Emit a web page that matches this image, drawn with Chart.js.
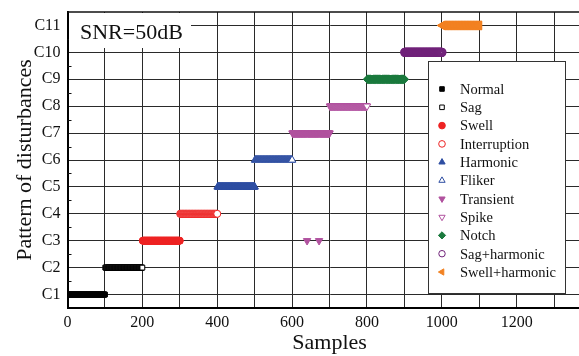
<!DOCTYPE html>
<html>
<head>
<meta charset="utf-8">
<script src="https://cdn.jsdelivr.net/npm/chart.js@4.4.1/dist/chart.umd.min.js"></script>
<style>
  html, body { margin: 0; padding: 0; background: #fff; overflow: hidden; }
  #wrap { width: 600px; height: 356px; }
</style>
</head>
<body>
<div id="wrap"><canvas id="chart" width="600" height="356"></canvas></div>
<script>
// disturbance classes, in the order they are fed to the classifier
const classNames = ["Normal", "Sag", "Swell", "Interruption", "Harmonic", "Fliker",
  "Transient", "Spike", "Notch", "Sag+harmonic", "Swell+harmonic"];
const sampleStart = [1, 101, 201, 301, 401, 501, 601, 701, 801, 901, 1001];
const sampleEnd = [100, 200, 300, 400, 500, 600, 700, 800, 900, 1000, 1100];
const predictedClass = [1, 2, 3, 4, 5, 6, 7, 8, 9, 10, 11];

// transient samples that were put in the wrong class
const missSamples = [640, 672];
const missClass = [3, 3];

const yTickLabels = ["C1", "C2", "C3", "C4", "C5", "C6", "C7", "C8", "C9", "C10", "C11"];
const xTickLabels = [0, 200, 400, 600, 800, 1000, 1200];

// marker look for each class
const classColors = ["#000000", "#000000", "#ee2323", "#ee2323", "#2e4ea2", "#2e4ea2",
  "#b1529f", "#b1529f", "#1b7a3e", "#71237a", "#f28222"];
const classMarkers = ["rect", "rect", "circle", "circle", "triangle", "triangle",
  "triangle", "triangle", "rectRot", "circle", "triangle"];
const classRotation = [0, 0, 0, 0, 0, 0, 180, 180, 0, 0, -90];
const classHollow = [false, true, false, true, false, true, false, true, false, true, false];
const classRadius = [3.4, 3.4, 3.5, 3.5, 4.3, 4.3, 4.3, 4.3, 4.1, 2.5, 5.0];
const classBorder = [1, 1, 1, 1, 1, 1, 1, 1, 1, 4.4, 1];

const serif = "'Liberation Serif', 'Times New Roman', serif";

const datasets = classNames.map((name, i) => {
  const points = [];
  for (let s = sampleStart[i]; s <= sampleEnd[i]; s++) {
    const m = i === 6 ? missSamples.indexOf(s) : -1;
    points.push({ x: s, y: m >= 0 ? missClass[m] : predictedClass[i] });
  }
  return {
    label: name,
    data: points,
    showLine: false,
    pointStyle: classMarkers[i],
    rotation: classRotation[i],
    pointRadius: classRadius[i],
    pointBorderWidth: classBorder[i],
    borderColor: classColors[i],
    backgroundColor: classHollow[i] ? "#ffffff" : classColors[i],
    clip: 0,
  };
});

function drawMarker(ctx, i, x, y) {
  const r = i === 9 ? 3.4 : Math.min(classRadius[i], 3.8);
  const opts = {
    pointStyle: classMarkers[i],
    rotation: classRotation[i],
    radius: r * 0.95,
    borderWidth: 1,
  };
  ctx.save();
  ctx.fillStyle = classHollow[i] ? "#ffffff" : classColors[i];
  ctx.strokeStyle = classColors[i];
  ctx.lineWidth = 1;
  Chart.helpers.drawPoint(ctx, opts, x, y);
  ctx.restore();
}

// top frame line, inward minor ticks, SNR note and the legend box
const extras = {
  id: "extras",
  beforeDatasetsDraw(chart) {
    const { ctx, chartArea } = chart;
    const ys = chart.scales.y;
    ctx.save();
    ctx.strokeStyle = "#111";
    ctx.lineWidth = 1.5;
    ctx.beginPath();
    ctx.moveTo(chartArea.left, chartArea.top);
    ctx.lineTo(chartArea.right, chartArea.top);
    ctx.stroke();
    ctx.lineWidth = 1;
    for (let v = 1.5; v < 11.5; v += 1) {
      const py = Math.round(ys.getPixelForValue(v)) + 0.5;
      ctx.beginPath();
      ctx.moveTo(chartArea.left, py);
      ctx.lineTo(chartArea.left + 4, py);
      ctx.stroke();
    }
    ctx.restore();
  },
  afterDraw(chart) {
    const { ctx, chartArea } = chart;
    ctx.save();
    // SNR note
    ctx.fillStyle = "#fff";
    ctx.fillRect(chartArea.left + 1.5, chartArea.top + 1, 122, 35);
    ctx.fillStyle = "#111";
    ctx.font = "22px " + serif;
    ctx.textBaseline = "alphabetic";
    ctx.fillText("SNR=50dB", 80, 39);

    // legend
    const lx = 428, ly = 61, lw = 137, lh = 232;
    ctx.fillStyle = "#fff";
    ctx.fillRect(lx, ly, lw, lh);
    ctx.strokeStyle = "#333";
    ctx.lineWidth = 1;
    ctx.strokeRect(lx + 0.5, ly + 0.5, lw, lh);
    ctx.font = "14.5px " + serif;
    ctx.textBaseline = "middle";
    classNames.forEach((name, i) => {
      const y = 89 + i * 18.3;
      drawMarker(ctx, i, 442, y);
      ctx.fillStyle = "#111";
      ctx.fillText(name, 460, y + 1);
    });
    ctx.restore();
  },
};

new Chart(document.getElementById("chart"), {
  type: "scatter",
  data: { datasets },
  plugins: [extras],
  options: {
    responsive: false,
    animation: false,
    events: [],
    devicePixelRatio: 1,
    layout: { padding: { top: 12, right: 4, left: 0, bottom: 0 } },
    plugins: { legend: { display: false }, tooltip: { enabled: false } },
    scales: {
      x: {
        type: "linear",
        min: 0,
        max: 1400,
        afterFit: (s) => { s.height = 48; s.paddingLeft = 0; s.paddingRight = 0; },
        afterBuildTicks: (s) => {
          s.ticks = [];
          for (let v = 0; v <= 1400; v += 100) s.ticks.push({ value: v });
        },
        ticks: {
          autoSkip: false,
          maxRotation: 0,
          padding: 5,
          color: "#111",
          font: { family: serif, size: 16 },
          callback: (v) => (xTickLabels.includes(v) ? String(v) : ""),
        },
        grid: {
          drawTicks: false,
          color: (c) => (c.tick && c.tick.value > 0 ? "#2a2a2a" : "transparent"),
          lineWidth: 1,
        },
        border: { display: true, color: "#000", width: 2 },
        title: {
          display: true,
          text: "Samples",
          color: "#111",
          font: { family: serif, size: 22 },
          padding: { top: 0, bottom: 0 },
        },
      },
      y: {
        type: "linear",
        min: 0.5,
        max: 11.5,
        afterFit: (s) => { s.width = 67.5; s.paddingTop = 0; s.paddingBottom = 0; },
        afterBuildTicks: (s) => {
          s.ticks = [];
          for (let v = 1; v <= 11; v++) s.ticks.push({ value: v });
        },
        ticks: {
          autoSkip: false,
          padding: 7,
          color: "#111",
          font: { family: serif, size: 16 },
          callback: (v) => yTickLabels[v - 1] || "",
        },
        grid: { drawTicks: false, color: "#2a2a2a", lineWidth: 1 },
        border: { display: true, color: "#000", width: 2 },
        title: {
          display: true,
          text: "Pattern of disturbances",
          color: "#111",
          font: { family: serif, size: 22 },
          padding: { top: 12, bottom: 0 },
        },
      },
    },
  },
});
</script>
</body>
</html>
